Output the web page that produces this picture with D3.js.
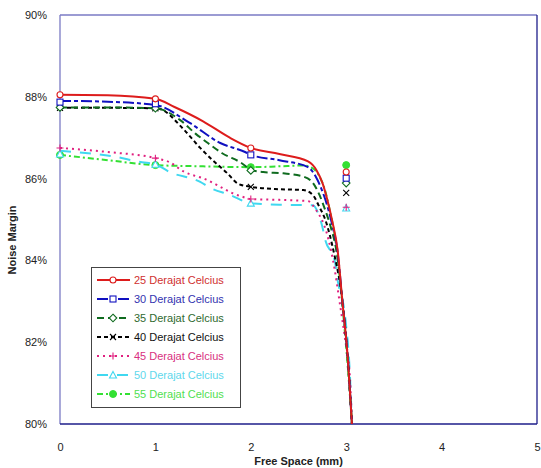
<!DOCTYPE html>
<html><head><meta charset="utf-8">
<script src="https://cdn.jsdelivr.net/npm/d3@7/dist/d3.min.js"></script>
<style>
body{margin:0;background:#fff;}
svg{display:block;font-family:"Liberation Sans",Arial,sans-serif;}
</style></head>
<body><svg id="c" width="541" height="468"></svg>
<script>
// ---- data ----
const seriesNames = ["25 Derajat Celcius","30 Derajat Celcius","35 Derajat Celcius","40 Derajat Celcius","45 Derajat Celcius","50 Derajat Celcius","55 Derajat Celcius"];
const markerX = [0, 1, 2, 3];
const mk25 = [88.05, 87.95, 86.75, 86.16];
const mk30 = [87.87, 87.83, 86.58, 86.01];
const mk35 = [87.74, 87.72, 86.20, 85.89];
const mk40 = [87.73, 87.72, 85.80, 85.65];
const mk45 = [86.75, 86.50, 85.50, 85.30];
const mk50 = [86.60, 86.35, 85.40, 85.28];
const mk55 = [86.58, 86.33, 86.28, 86.33];

const lx25 = [0, 0.5, 1, 1.2, 1.5, 1.78, 2, 2.3, 2.6, 2.69, 2.75, 2.8, 2.85, 2.91, 2.96, 3.01, 3.06];
const ly25 = [88.05, 88.04, 87.95, 87.75, 87.4, 87.0, 86.75, 86.6, 86.42, 86.2, 85.9, 85.5, 85.0, 84.25, 83.0, 81.8, 80.0];
const lx30 = [0, 0.5, 1, 1.36, 1.68, 1.94, 2, 2.3, 2.6, 2.68, 2.74, 2.8, 2.85, 2.91, 2.96, 3.01, 3.06];
const ly30 = [87.9, 87.88, 87.8, 87.36, 86.87, 86.65, 86.58, 86.45, 86.28, 86.05, 85.75, 85.35, 84.9, 84.2, 83.0, 81.8, 80.0];
const lx35 = [0, 0.5, 1, 1.26, 1.42, 1.55, 1.7, 1.89, 2.02, 2.13, 2.34, 2.55, 2.65, 2.72, 2.78, 2.84, 2.9, 2.96, 3.01, 3.06];
const ly35 = [87.74, 87.74, 87.72, 87.43, 87.1, 86.87, 86.62, 86.4, 86.2, 86.16, 86.13, 86.05, 85.9, 85.6, 85.23, 84.8, 84.2, 83.0, 81.8, 80.0];
const lx40 = [0, 0.5, 1, 1.05, 1.29, 1.47, 1.6, 1.75, 1.87, 2, 2.3, 2.55, 2.65, 2.72, 2.78, 2.83, 2.87, 2.96, 3.01, 3.06];
const ly40 = [87.73, 87.73, 87.72, 87.7, 87.22, 86.75, 86.45, 86.14, 85.87, 85.8, 85.74, 85.72, 85.6, 85.3, 85.0, 84.6, 84.2, 83.0, 81.8, 80.0];
const lx45 = [0, 0.5, 1, 1.15, 1.29, 1.54, 1.68, 1.8, 1.92, 2, 2.3, 2.6, 2.67, 2.81, 2.88, 2.93, 2.99, 3.04, 3.06];
const ly45 = [86.75, 86.65, 86.5, 86.4, 86.18, 85.97, 85.8, 85.65, 85.55, 85.5, 85.48, 85.45, 85.28, 84.55, 83.77, 83.0, 82.05, 81.1, 80.0];
const lx50 = [0, 0.16, 0.54, 0.86, 1, 1.15, 1.47, 1.57, 1.78, 2, 2.3, 2.65, 2.72, 2.75, 2.78, 2.88, 2.91, 2.99, 3.04, 3.06];
const ly50 = [86.68, 86.65, 86.55, 86.4, 86.35, 86.16, 85.92, 85.78, 85.6, 85.4, 85.36, 85.35, 85.06, 84.82, 84.5, 84.0, 83.52, 82.6, 81.15, 80.0];
const lx55 = [0, 0.5, 1, 1.5, 2, 2.3, 2.55, 2.65, 2.72, 2.78, 2.83, 2.88, 2.93, 2.98, 3.02, 3.06];
const ly55 = [86.58, 86.45, 86.33, 86.3, 86.28, 86.3, 86.32, 86.25, 86.05, 85.7, 85.2, 84.6, 83.6, 82.4, 81.3, 80.0];

const xTicks = [0, 1, 2, 3, 4, 5];
const yTicks = [80, 82, 84, 86, 88, 90];

// ---- styles ----
const colors = ["#dd1c1c", "#1010c0", "#0f6b1f", "#000000", "#e0207f", "#40d8f0", "#33e033"];
const textColors = ["#d03030", "#3333b0", "#2f6a30", "#111111", "#d83080", "#60d8ec", "#50e050"];
const dashes = [null, "11,3,4,3", "7,4", "4,3", "2,4", "11,9", "6,3,2,3"];
const shapes = ["circleOpen", "square", "diamond", "x", "plus", "triangle", "circleFilled"];

const lineXs = [lx25, lx30, lx35, lx40, lx45, lx50, lx55];
const lineYs = [ly25, ly30, ly35, ly40, ly45, ly50, ly55];
const markYs = [mk25, mk30, mk35, mk40, mk45, mk50, mk55];

const svg = d3.select("#c");
const L = 60, R = 537, T = 15, B = 424;
const x = d3.scaleLinear().domain([0, 5]).range([L, R]);
const y = d3.scaleLinear().domain([80, 90]).range([B, T]);

// frame
svg.append("line").attr("x1", L).attr("x2", R).attr("y1", T).attr("y2", T).attr("stroke", "#7a7ac4").attr("stroke-width", 1.3);
svg.append("line").attr("x1", L).attr("x2", L).attr("y1", T).attr("y2", B).attr("stroke", "#7a7ac4").attr("stroke-width", 1.3);
svg.append("line").attr("x1", R).attr("x2", R).attr("y1", T).attr("y2", B).attr("stroke", "#1e1e8a").attr("stroke-width", 1.3);
svg.append("line").attr("x1", L).attr("x2", R).attr("y1", B).attr("y2", B).attr("stroke", "#1e1e8a").attr("stroke-width", 1.3);

// axes
const ya = svg.append("g").attr("transform", `translate(${L},0)`)
  .call(d3.axisLeft(y).tickValues(yTicks).tickSize(0).tickPadding(13).tickFormat(d => d + "%"));
ya.select(".domain").remove();
ya.selectAll("text").attr("font-size", 11).attr("fill", "#222").attr("font-family", "Liberation Sans, Arial, sans-serif");

const xa = svg.append("g").attr("transform", `translate(0,${B})`)
  .call(d3.axisBottom(x).tickValues(xTicks).tickSize(0).tickPadding(19).tickFormat(d3.format("d")));
xa.select(".domain").remove();
xa.selectAll("text").attr("font-size", 11).attr("fill", "#222").attr("font-family", "Liberation Sans, Arial, sans-serif");

svg.append("text").attr("x", (L + R) / 2).attr("y", 465).attr("text-anchor", "middle")
  .attr("font-size", 11).attr("font-weight", "bold").attr("fill", "#222").text("Free Space (mm)");
svg.append("text").attr("transform", "translate(16,240) rotate(-90)").attr("text-anchor", "middle")
  .attr("font-size", 11).attr("font-weight", "bold").attr("fill", "#222").text("Noise Margin");

// marker drawing
function drawMarker(g, shape, cx, cy, col) {
  const s = 3;
  if (shape === "circleOpen") {
    g.append("circle").attr("cx", cx).attr("cy", cy).attr("r", s).attr("fill", "#fff").attr("stroke", col).attr("stroke-width", 1.1);
  } else if (shape === "circleFilled") {
    g.append("circle").attr("cx", cx).attr("cy", cy).attr("r", s + 0.5).attr("fill", col).attr("stroke", col);
  } else if (shape === "square") {
    g.append("rect").attr("x", cx - s).attr("y", cy - s).attr("width", 2 * s).attr("height", 2 * s).attr("fill", "#fff").attr("stroke", col).attr("stroke-width", 1.1);
  } else if (shape === "diamond") {
    g.append("path").attr("d", `M${cx},${cy - s - 0.8}L${cx + s + 0.8},${cy}L${cx},${cy + s + 0.8}L${cx - s - 0.8},${cy}Z`).attr("fill", "#fff").attr("stroke", col).attr("stroke-width", 1.1);
  } else if (shape === "triangle") {
    g.append("path").attr("d", `M${cx},${cy - s - 0.5}L${cx + s + 0.5},${cy + s}L${cx - s - 0.5},${cy + s}Z`).attr("fill", "#fff").attr("stroke", col).attr("stroke-width", 1.1);
  } else if (shape === "x") {
    g.append("path").attr("d", `M${cx - s},${cy - s}L${cx + s},${cy + s}M${cx - s},${cy + s}L${cx + s},${cy - s}`).attr("stroke", col).attr("stroke-width", 1.1).attr("fill", "none");
  } else if (shape === "plus") {
    g.append("path").attr("d", `M${cx - s - 0.5},${cy}L${cx + s + 0.5},${cy}M${cx},${cy - s - 0.5}L${cx},${cy + s + 0.5}`).attr("stroke", col).attr("stroke-width", 1.1).attr("fill", "none");
  }
}

const line = d3.line().x(d => x(d[0])).y(d => y(d[1])).curve(d3.curveMonotoneX);

// draw series (reverse so 25 is on top)
const order = [6, 5, 4, 3, 2, 1, 0];
order.forEach(i => {
  const pts = lineXs[i].map((v, k) => [v, lineYs[i][k]]);
  const p = svg.append("path").datum(pts).attr("d", line).attr("fill", "none")
    .attr("stroke", colors[i]).attr("stroke-width", 2);
  if (dashes[i]) p.attr("stroke-dasharray", dashes[i]);
  const g = svg.append("g");
  markerX.forEach((mx, k) => drawMarker(g, shapes[i], x(mx), y(markYs[i][k]), colors[i]));
});

// legend
const lg = svg.append("g");
lg.append("rect").attr("x", 91.5).attr("y", 267.5).attr("width", 149).attr("height", 140)
  .attr("fill", "#fff").attr("stroke", "#444").attr("stroke-width", 1);
seriesNames.forEach((name, i) => {
  const yy = 280 + i * 19;
  const ln = lg.append("line").attr("x1", 97).attr("x2", 130).attr("y1", yy).attr("y2", yy)
    .attr("stroke", colors[i]).attr("stroke-width", 2);
  if (dashes[i]) ln.attr("stroke-dasharray", dashes[i]);
  drawMarker(lg, shapes[i], 113, yy, colors[i]);
  lg.append("text").attr("x", 134).attr("y", yy + 4).attr("font-size", 11)
    .attr("fill", textColors[i]).text(name);
});
</script></body></html>
